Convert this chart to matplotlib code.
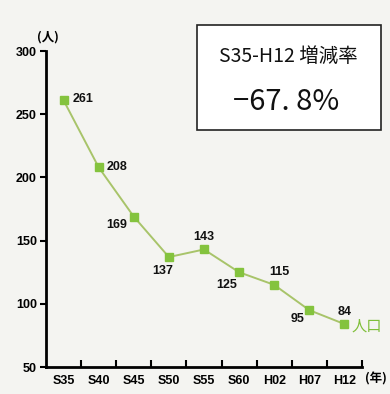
import matplotlib
matplotlib.use("Agg")
import matplotlib.pyplot as plt
from matplotlib.patches import Rectangle

categories = ["S35", "S40", "S45", "S50", "S55", "S60", "H02", "H07", "H12"]
population = [261, 208, 169, 137, 143, 125, 115, 95, 84]
y_ticks = [50, 100, 150, 200, 250, 300]
# label offsets (pixels) for each data label
label_offsets = [(9, 1), (8, 0), (-7, -8), (-6, -14), (0, 12), (-12, -13), (5, 13), (-12, -9), (0, 12)]
label_ha = ["left", "left", "right", "center", "center", "center", "center", "center", "center"]

bg = "#f4f4f1"
line_color = "#a8c46a"
marker_color = "#84c33e"

plt.rcParams['font.family'] = ['Liberation Sans', 'DejaVu Sans']

fig = plt.figure(figsize=(3.9, 3.94), dpi=100, facecolor=bg)
ax = fig.add_axes([0.118, 0.0685, 0.810, 0.802])
ax.set_facecolor(bg)

x = list(range(len(categories)))
ax.plot(x, population, color=line_color, lw=1.4, zorder=2)
ax.plot(x, population, ls="none", marker="s", ms=5.5, color=marker_color, zorder=3)

for xi, v, off, ha in zip(x, population, label_offsets, label_ha):
    ax.annotate(str(v), (xi, v), xytext=off, textcoords="offset pixels",
                ha=ha, va="center", fontsize=9, fontweight="bold", color="#111111")

ax.annotate("人口", (x[-1], population[-1]), xytext=(7, -2), textcoords="offset pixels",
            ha="left", va="center", fontsize=11, color="#7fbf3a",
            family=['Noto Sans CJK JP'])

ax.set_xlim(-0.5, len(categories) - 0.5)
ax.set_ylim(50, 300)
ax.set_yticks(y_ticks)
ax.set_yticklabels([str(t) for t in y_ticks], fontsize=9, fontweight="bold")
ax.set_xticks(x)
ax.set_xticklabels(categories, fontsize=9, fontweight="bold")
ax.tick_params(axis="x", length=0, pad=6)
ax.set_xticks([i + 0.5 for i in x], minor=True)
ax.tick_params(axis="x", which="minor", direction="in", length=5, width=1.5)
ax.tick_params(axis="y", direction="out", length=4.5, width=1.5, pad=2)

for s in ["top", "right"]:
    ax.spines[s].set_visible(False)
for s in ["left", "bottom"]:
    ax.spines[s].set_linewidth(2)

fig.text(48 / 390, 1 - 37 / 394, "(人)", ha="center", va="center", fontsize=9,
         fontweight="bold", family=['Noto Sans CJK JP'])
fig.text(376 / 390, 1 - 379 / 394, "(年)", ha="center", va="center", fontsize=9,
         fontweight="bold", family=['Noto Sans CJK JP'])

box = Rectangle((197 / 390, 1 - 130 / 394), (381 - 197) / 390, (130 - 25) / 394,
                transform=fig.transFigure, facecolor="white", edgecolor="#222222", lw=1.2)
fig.patches.append(box)
fig.text(288 / 390, 1 - 56 / 394, "S35-H12 増減率", ha="center", va="center",
         fontsize=14, family=['Noto Sans CJK JP'], color="#111111")
fig.text(286 / 390, 1 - 102 / 394, "−67. 8%", ha="center", va="center",
         fontsize=21, family=['Noto Sans CJK JP'], color="#111111")

fig.savefig("out.png", dpi=100, facecolor=bg)
